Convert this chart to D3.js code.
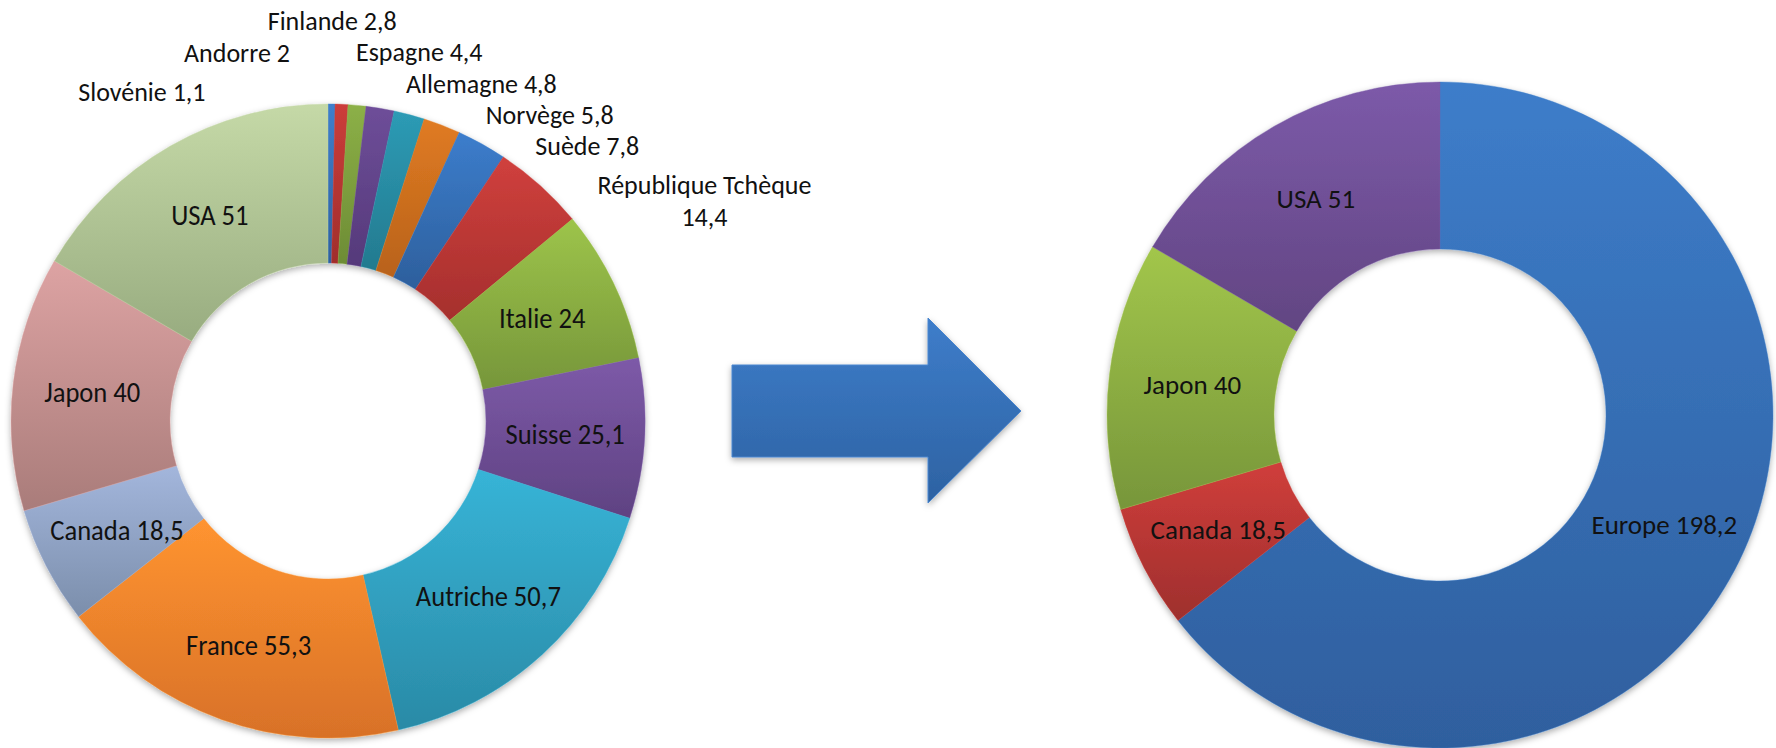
<!DOCTYPE html>
<html><head><meta charset="utf-8">
<script src="https://cdn.jsdelivr.net/npm/d3@7"></script>
<style>
html,body{margin:0;padding:0;background:#fff;}
svg{display:block;}
text{font-family: Carlito, Calibri, Lato, "Noto Sans", sans-serif; fill:#111;}
</style></head><body>
<svg id="chart" width="1776" height="748"></svg>
<script>
// ---- Data ----
const countries = ["Slovénie","Andorre","Finlande","Espagne","Allemagne","Norvège","Suède","République Tchèque","Italie","Suisse","Autriche","France","Canada","Japon","USA"];
const countryValues = [1.1, 2, 2.8, 4.4, 4.8, 5.8, 7.8, 14.4, 24, 25.1, 50.7, 55.3, 18.5, 40, 51];
const regions = ["Europe","Canada","Japon","USA"];
const regionValues = [198.2, 18.5, 40, 51];

// ---- Styles (top colour, bottom colour of each slice gradient) ----
const countryColors = [
  ["#3f7fcc","#2f609f"],["#cc3d3a","#a02e2c"],["#8cb047","#6d8c35"],["#6e4e99","#55397a"],
  ["#2d9bb5","#237a8f"],["#e07b22","#b8621b"],["#3c7dcc","#2d5f9c"],["#d0403d","#a52f2d"],
  ["#9dc44a","#76963a"],["#7d5aa8","#5f4282"],["#37b4d7","#2a8aa6"],["#ff9430","#d87128"],
  ["#a3b6dc","#7b8eab"],["#dda3a3","#a97c7a"],["#c5d9a7","#98ac80"]
];
const regionColors = [["#3d7dca","#2f5f9e"],["#d03e3b","#9e2f2d"],["#a2c64b","#77963a"],["#7c5aa9","#624582"]];

// Outside label layout for the small slices of the left chart: [angle deg, radius px]
const outsideLabelLayout = {
  0:[-29.5,378], 1:[-13.9,379], 2:[0.6,400], 3:[13.9,380],
  4:[24.5,370], 5:[35.9,378], 6:[43.3,378], 7:[59.7,436]
};

const fr = d3.formatLocale({decimal:",", thousands:" ", grouping:[3], currency:["","€"]});
const fmt = fr.format("~g");

const svg = d3.select("#chart");
const defs = svg.append("defs");
const f = defs.append("filter").attr("id","shadow").attr("x","-10%").attr("y","-10%").attr("width","120%").attr("height","120%");
f.append("feDropShadow").attr("dx",0).attr("dy",2.5).attr("stdDeviation",3).attr("flood-color","#000").attr("flood-opacity",0.32);

function addGrad(id, c){
  const g = defs.append("linearGradient").attr("id",id).attr("x1",0).attr("y1",0).attr("x2",0).attr("y2",1);
  g.append("stop").attr("offset","0%").attr("stop-color",c[0]);
  g.append("stop").attr("offset","100%").attr("stop-color",c[1]);
}

function donut(opts){
  const data = opts.names.map((n,i)=>({name:n, value:opts.values[i], i}));
  const pie = d3.pie().sort(null).value(d=>d.value);
  const arcs = pie(data);
  const arc = d3.arc().innerRadius(opts.r0).outerRadius(opts.r1);
  const g = svg.append("g").attr("transform",`translate(${opts.cx},${opts.cy})`);
  opts.colors.forEach((c,i)=>addGrad(opts.id+"g"+i, c));
  g.append("g").attr("filter","url(#shadow)")
    .selectAll("path").data(arcs).join("path")
    .attr("d",arc)
    .attr("fill",d=>`url(#${opts.id}g${d.index})`)
    .attr("stroke",d=>opts.colors[d.index][0]).attr("stroke-width",0.4);
  const lab = g.append("g");
  const put = (x,y,s,fs,sx)=>lab.append("text").attr("text-anchor","middle").attr("x",x).attr("y",y)
      .attr("font-size",fs)
      .attr("dominant-baseline","central")
      .attr("transform",`translate(${x},${y}) scale(${sx},1) translate(${-x},${-y})`).text(s);
  arcs.forEach(d=>{
    const txt = d.data.name + " " + fmt(d.data.value);
    const out = opts.outside && opts.outside[d.index];
    if(out){
      const [x,y] = d3.pointRadial(out[0]*Math.PI/180, out[1]);
      if(d.data.name.length > 12){
        put(x, y-16, d.data.name, opts.outFontSize, 1);
        put(x, y+16, fmt(d.data.value), opts.outFontSize, 1);
      } else {
        put(x, y, txt, opts.outFontSize, 1);
      }
    } else {
      const [x,y] = arc.centroid(d);
      put(x, y, txt, opts.fontSize, opts.sx);
    }
  });
}

donut({id:"L", names:countries, values:countryValues, colors:countryColors, cx:328, cy:421, r0:158, r1:317, fontSize:28, outFontSize:26, sx:0.95, outside:outsideLabelLayout});
donut({id:"R", names:regions, values:regionValues, colors:regionColors, cx:1440, cy:415, r0:166, r1:333, fontSize:27, sx:1});

// Arrow shape between the two charts
addGrad("arrowG", ["#3e7dca","#2d62a2"]);
const ax0=732, ay0=365, ay1=457, hx=928, hy0=318, hy1=503, tx=1021, ty=411;
svg.append("path")
  .attr("d",`M${ax0},${ay0}L${hx},${ay0}L${hx},${hy0}L${tx},${ty}L${hx},${hy1}L${hx},${ay1}L${ax0},${ay1}Z`)
  .attr("fill","url(#arrowG)").attr("stroke","#4a86cf").attr("stroke-width",1)
  .attr("filter","url(#shadow)");
</script>
</body></html>
